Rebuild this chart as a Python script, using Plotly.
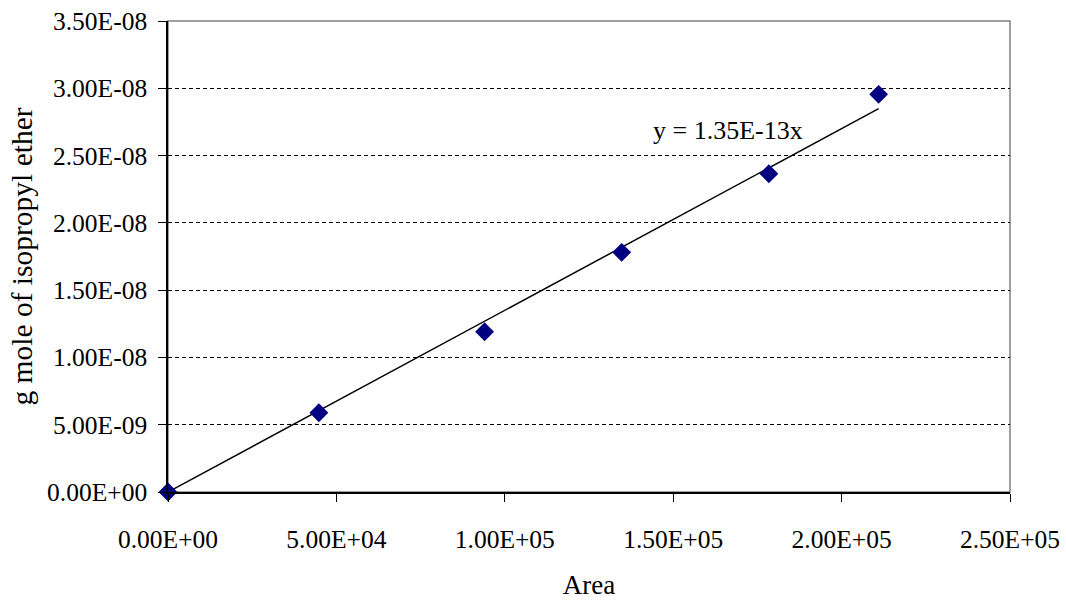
import plotly.graph_objects as go

# Calibration data: GC peak area vs moles of isopropyl ether
area = [0, 44800, 94000, 134700, 178400, 211000]
moles = [0, 5.89e-9, 1.191e-8, 1.781e-8, 2.365e-8, 2.955e-8]

# Linear fit forced through the origin
slope = 1.35e-13
fit_x = [0, max(area)]
fit_y = [slope * v for v in fit_x]

x_ticks = [0, 50000, 100000, 150000, 200000, 250000]
x_tick_text = ["0.00E+00", "5.00E+04", "1.00E+05", "1.50E+05", "2.00E+05", "2.50E+05"]
y_ticks = [0, 5e-9, 1e-8, 1.5e-8, 2e-8, 2.5e-8, 3e-8, 3.5e-8]
y_tick_text = ["0.00E+00", "5.00E-09", "1.00E-08", "1.50E-08", "2.00E-08",
               "2.50E-08", "3.00E-08", "3.50E-08"]

FONT = "Liberation Serif, Times New Roman, serif"

fig = go.Figure()

fig.add_trace(go.Scatter(
    x=fit_x, y=fit_y, mode="lines",
    line=dict(color="black", width=1.5),
    hoverinfo="skip", showlegend=False,
))

fig.add_trace(go.Scatter(
    x=area, y=moles, mode="markers",
    marker=dict(symbol="diamond", size=14.5, color="#000080"),
    showlegend=False, cliponaxis=False,
))

fig.add_annotation(
    x=166400, y=2.684e-8, xref="x", yref="y",
    text="y = 1.35E-13x", showarrow=False,
    font=dict(family=FONT, size=26, color="black"),
)

# Grey plot-area frame
fig.add_shape(
    type="rect", xref="paper", yref="paper", x0=0, y0=0, x1=1, y1=1,
    line=dict(color="#808080", width=1.5), layer="below",
)

fig.update_layout(
    width=1066, height=600,
    margin=dict(l=168, r=56, t=21, b=108),
    paper_bgcolor="white", plot_bgcolor="white",
    font=dict(family=FONT, size=25.5, color="black"),
)

fig.update_xaxes(
    range=[0, 250000], automargin=False,
    tickmode="array", tickvals=x_ticks, ticktext=x_tick_text,
    ticks="outside", ticklen=8, tickcolor="black", tickwidth=1,
    ticklabelstandoff=16,
    showline=True, linecolor="black", linewidth=1.5,
    showgrid=False, zeroline=False,
    title=dict(text="Area", font=dict(size=27), standoff=22),
    tickfont=dict(size=25.5),
)

fig.update_yaxes(
    range=[0, 3.5e-8], automargin=False,
    tickmode="array", tickvals=y_ticks, ticktext=y_tick_text,
    ticks="outside", ticklen=8, tickcolor="black", tickwidth=1,
    ticklabelstandoff=6,
    showline=True, linecolor="black", linewidth=1.5,
    showgrid=True, gridcolor="black", gridwidth=1, griddash="4px,3px",
    zeroline=False,
    title=dict(text="g mole of isopropyl ether", font=dict(size=29.5), standoff=6),
    tickfont=dict(size=25.5),
)

fig.write_html("out.html")
